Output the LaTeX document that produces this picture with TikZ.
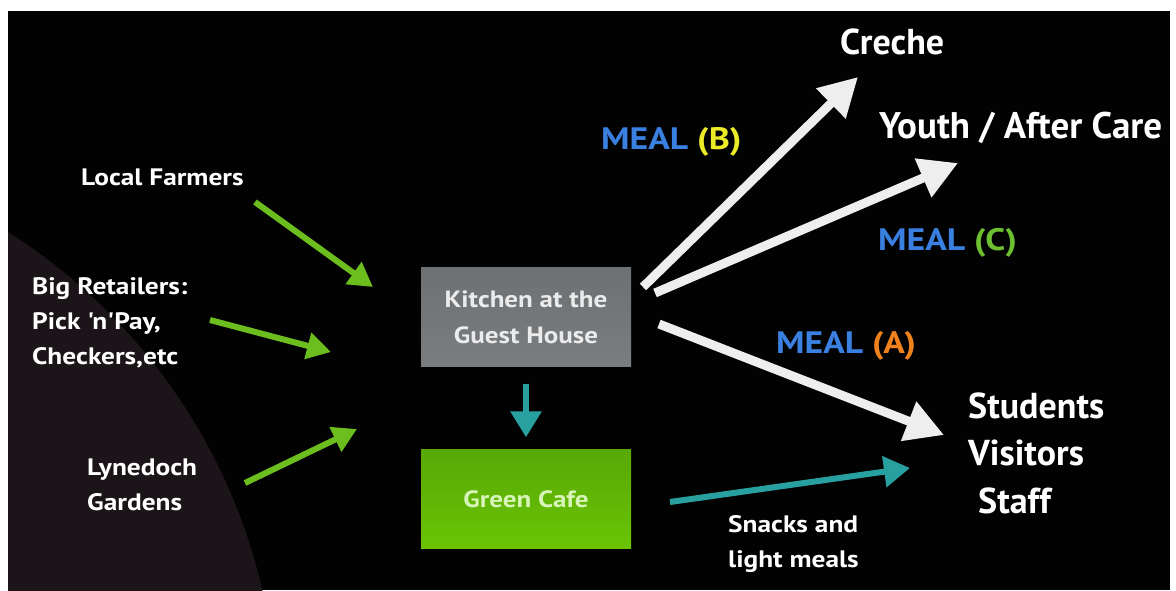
\documentclass[tikz,border=0pt]{standalone}
\usepackage{fontspec}
\setmainfont{PT Sans}
\newfontfamily\widefont{PT Sans}[FakeStretch=1.15]
\usetikzlibrary{arrows.meta}
\definecolor{bgblack}{RGB}{2,2,2}
\definecolor{planet}{RGB}{27,20,25}
\definecolor{arrgreen}{RGB}{108,190,30}
\definecolor{arrteal}{RGB}{40,160,160}
\definecolor{arrwhite}{RGB}{238,238,238}
\definecolor{mealblue}{RGB}{58,128,225}
\definecolor{mealyellow}{RGB}{235,235,40}
\definecolor{mealgreen}{RGB}{110,190,50}
\definecolor{mealorange}{RGB}{240,130,30}
\definecolor{kitgray}{RGB}{110,113,116}
\definecolor{kitgraylight}{RGB}{122,125,128}
\definecolor{cafetop}{RGB}{88,168,8}
\definecolor{cafebot}{RGB}{106,196,4}
\definecolor{cafetext}{RGB}{215,245,185}
\definecolor{boxtext}{RGB}{235,235,235}
\tikzset{
  smalllabel/.style={text=white, font=\widefont\fontsize{23.8}{35}\selectfont\bfseries, align=left, inner sep=0pt},
  biglabel/.style={text=white, font=\fontsize{36}{47.5}\selectfont\bfseries, align=left, inner sep=0pt},
  meallabel/.style={font=\widefont\fontsize{31}{38}\selectfont\bfseries, inner sep=0pt},
  greenarrow/.style={draw=arrgreen, line width=6pt, -{Triangle[length=24pt,width=26pt]}},
  whitearrow/.style={draw=arrwhite, line width=9pt, -{Triangle[length=38pt,width=40pt]}},
  tealarrow/.style={draw=arrteal, line width=6pt, -{Triangle[length=26pt,width=30pt]}},
  kitbox/.style={minimum width=210pt, minimum height=99pt, inner sep=0pt, top color=kitgray, bottom color=kitgraylight, text=boxtext, align=center, font=\widefont\fontsize{23.5}{36}\selectfont\bfseries},
  cafebox/.style={minimum width=210pt, minimum height=99pt, inner sep=0pt, top color=cafetop, bottom color=cafebot, text=cafetext, align=center, font=\widefont\fontsize{23.5}{36}\selectfont\bfseries}
}
\begin{document}
\begin{tikzpicture}[x=1pt,y=-1pt]
\useasboundingbox (0,0) rectangle (1176,590);
\fill[white] (0,0) rectangle (1176,590);
\fill[bgblack] (8,11) rectangle (1170,590);
\begin{scope}
  \clip (8,11) rectangle (1170,590);
  \fill[planet] (-300,720) circle[radius=577];
\end{scope}

% boxes
\node[kitbox] (kitchen) at (526,317) {Kitchen at the\\Guest House};
\node[cafebox] (cafe) at (526,499) {Green Cafe};

% left labels
\node[smalllabel, anchor=west] (farmers) at (81,177) {Local Farmers};
\node[smalllabel, anchor=west] (retail) at (32,323) {Big Retailers:\\Pick 'n'Pay,\\Checkers,etc};
\node[smalllabel, anchor=west] (garden) at (87,485) {Lynedoch\\Gardens};

% right labels
\node[biglabel, anchor=west] (creche) at (840,42) {Creche};
\node[biglabel, anchor=west, font=\fontsize{37}{47.5}\selectfont\bfseries] (youth) at (879,128) {Youth / After Care};
\node[biglabel, anchor=west] (students) at (968,453) {Students\\Visitors\\\hspace*{10pt}Staff};
\node[smalllabel, anchor=west] (snacks) at (728,544) {Snacks and\\light meals};

% meal labels
\node[meallabel, anchor=west] (mealb) at (601,142) {\textcolor{mealblue}{MEAL} \textcolor{mealyellow}{(B)}};
\node[meallabel, anchor=west] (mealc) at (878,243) {\textcolor{mealblue}{MEAL} \textcolor{mealgreen}{(C)}};
\node[meallabel, anchor=west] (meala) at (776,346) {\textcolor{mealblue}{MEAL} \textcolor{mealorange}{(A)}};

% arrow endpoints
\coordinate (gf1) at (255,202); \coordinate (gf2) at (373,287);
\coordinate (gr1) at (210,320); \coordinate (gr2) at (331,352);
\coordinate (gg1) at (245,483); \coordinate (gg2) at (357,429);
\coordinate (wc1) at (643,287); \coordinate (wc2) at (858,77);
\coordinate (wy1) at (655,293); \coordinate (wy2) at (958,163);
\coordinate (ws1) at (659,324); \coordinate (ws2) at (944,435);
\coordinate (ts1) at (670,502); \coordinate (ts2) at (910,468);

% arrows
\draw[greenarrow] (gf1) -- (gf2);
\draw[greenarrow] (gr1) -- (gr2);
\draw[greenarrow] (gg1) -- (gg2);
\draw[whitearrow] (wc1) -- (wc2);
\draw[whitearrow] (wy1) -- (wy2);
\draw[whitearrow] (ws1) -- (ws2);
\draw[tealarrow] (ts1) -- (ts2);
\draw[tealarrow, shorten <=17pt, shorten >=12pt] (kitchen.south) -- (cafe.north);
\end{tikzpicture}
\end{document}
